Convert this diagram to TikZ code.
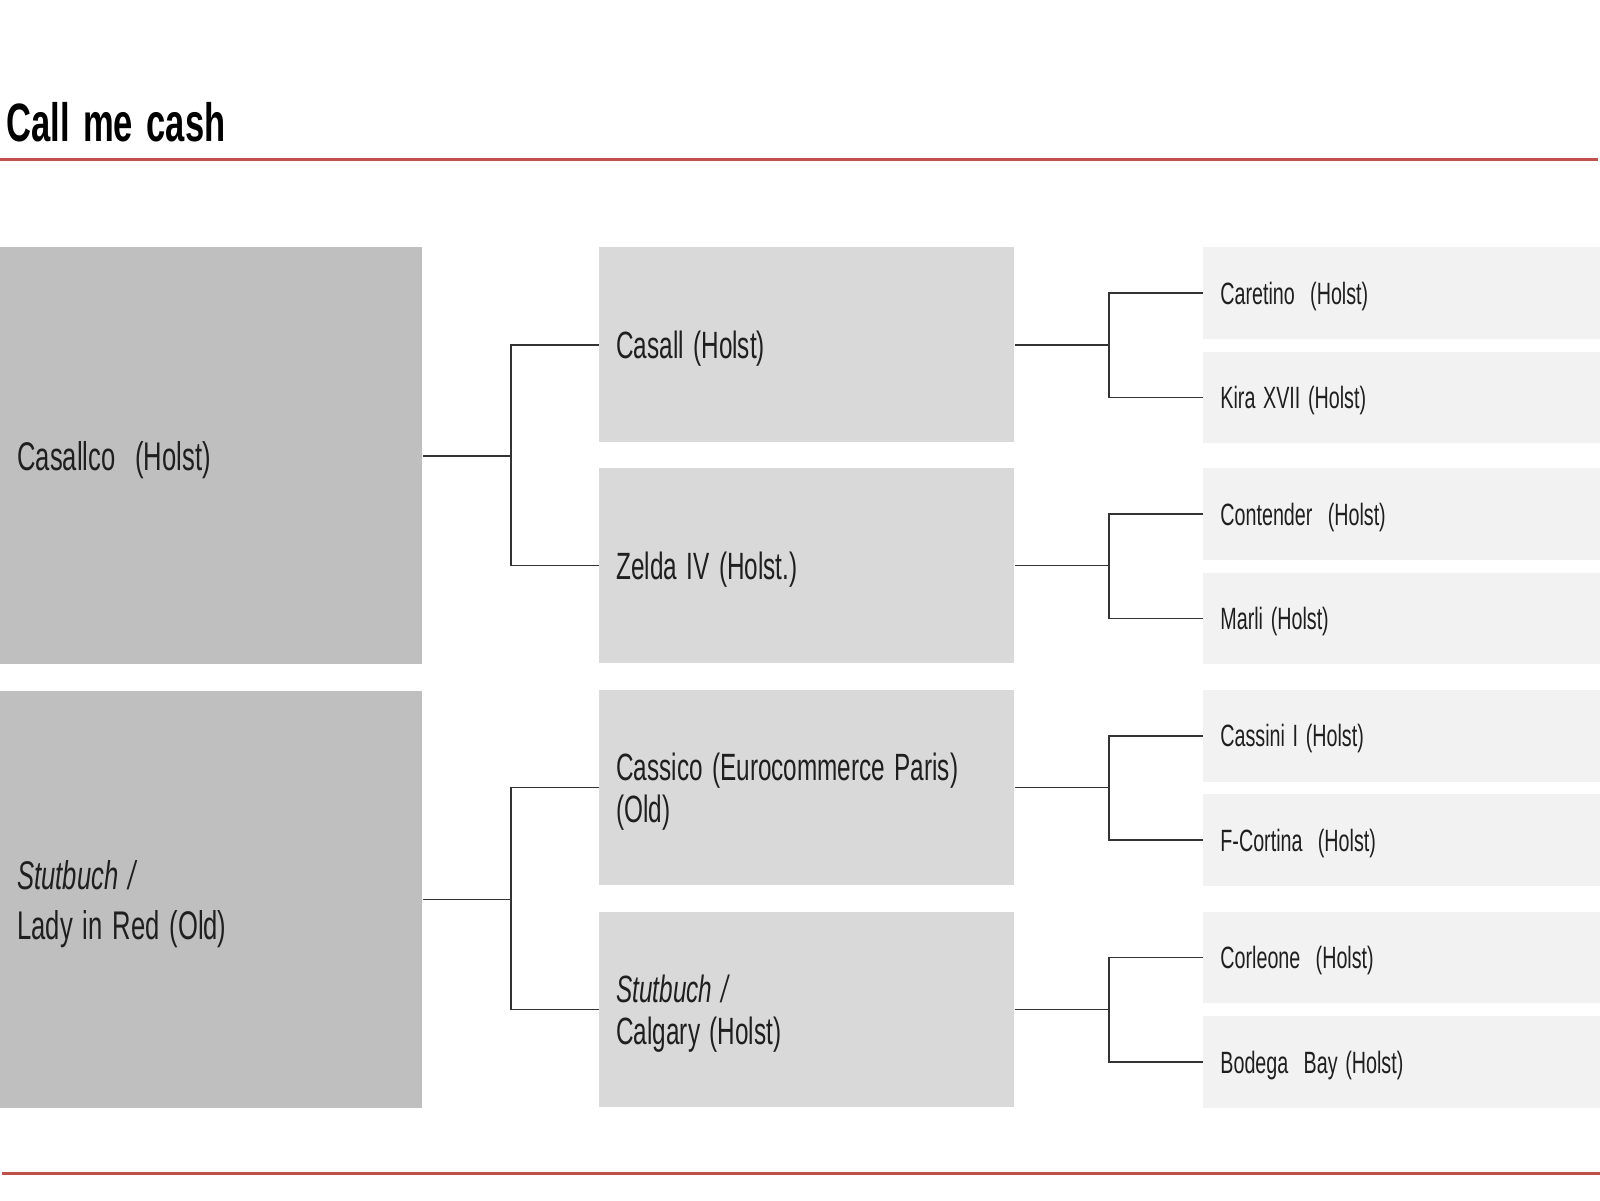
\documentclass[tikz,border=0pt]{standalone}
\usepackage{fontspec}
\setmainfont{Liberation Sans}[FakeStretch=0.64, WordSpace=1.4]
\usetikzlibrary{calc, positioning}

\definecolor{parentgray}{HTML}{BFBFBF}
\definecolor{grandgray}{HTML}{D9D9D9}
\definecolor{greatgray}{HTML}{F2F2F2}
\definecolor{rulered}{HTML}{C0504D}

\begin{document}
\begin{tikzpicture}[x=0.5pt, y=-0.5pt,
	horse/.style={rectangle, inner xsep=8.5pt, inner ysep=0pt, text depth=0pt, align=flush left, anchor=north west, text=black!88},
	parent/.style={horse, fill=parentgray, minimum width=211pt, minimum height=208.5pt, text width=194pt, font=\fontsize{20}{25}\selectfont},
	grand/.style={horse, fill=grandgray, minimum width=207.5pt, minimum height=97.5pt, text width=190.5pt, font=\fontsize{19}{21}\selectfont},
	great/.style={horse, fill=greatgray, minimum width=198.5pt, minimum height=45.75pt, text width=181.5pt, font=\fontsize{15.4}{18}\selectfont},
	fork/.style={to path={-| ($(\tikztostart)!0.5!(\tikztotarget)$) |- (\tikztotarget)}},
	link/.style={draw=black!80, line width=0.75pt},
	rule/.style={draw=rulered, line width=1.5pt}]
	\useasboundingbox (0,0) rectangle (1600,1200);

	\node [anchor=base west, inner sep=0pt, font=\fontsize{27}{30}\bfseries] (title) at (6,141) {Call me cash};
	\coordinate (ruleleft)  at (0,159);
	\coordinate (ruleright) at (1598,159);
	\coordinate (footleft)  at (2,1173);
	\coordinate (footright) at (1600,1173);
	\coordinate (rcol) at (1203,0);

	\node [parent]                         (casallco) at (0,247) {Casallco~ (Holst)};
	\node [parent, text depth=25pt, below=13pt of casallco] (ladyred) {\textit{Stutbuch /}\\Lady in Red (Old)};

	\node [grand]                          (casall)   at (599,247) {Casall (Holst)};
	\node [grand, below=12.5pt of casall]  (zelda)              {Zelda IV (Holst.)};
	\node [grand, text depth=21pt, below=13pt of zelda]   (cassico) {Cassico (Eurocommerce Paris)\\(Old)};
	\node [grand, text depth=21pt, below=13pt of cassico] (calgary) {\textit{Stutbuch /}\\Calgary (Holst)};

	\node [great]                          (caretino)  at (rcol |- casall.north)  {Caretino~ (Holst)};
	\node [great, below=6pt of caretino]   (kira)                                 {Kira XVII (Holst)};
	\node [great]                          (contender) at (rcol |- zelda.north)   {Contender~ (Holst)};
	\node [great, below=6pt of contender]  (marli)                                {Marli (Holst)};
	\node [great]                          (cassini)   at (rcol |- cassico.north) {Cassini I (Holst)};
	\node [great, below=6pt of cassini]    (cortina)                              {F-Cortina~ (Holst)};
	\node [great]                          (corleone)  at (rcol |- calgary.north) {Corleone~ (Holst)};
	\node [great, below=6pt of corleone]   (bodega)                               {Bodega~ Bay (Holst)};

	\path[link] (casallco.east) edge[fork] (casall.west) edge[fork] (zelda.west);
	\path[link] (ladyred.east)  edge[fork] (cassico.west) edge[fork] (calgary.west);
	\path[link] (casall.east)   edge[fork] (caretino.west) edge[fork] (kira.west);
	\path[link] (zelda.east)    edge[fork] (contender.west) edge[fork] (marli.west);
	\path[link] (cassico.east)  edge[fork] (cassini.west) edge[fork] (cortina.west);
	\path[link] (calgary.east)  edge[fork] (corleone.west) edge[fork] (bodega.west);

	\draw[rule] (ruleleft) -- (ruleright);
	\draw[rule] (footleft) -- (footright);
\end{tikzpicture}
\end{document}
